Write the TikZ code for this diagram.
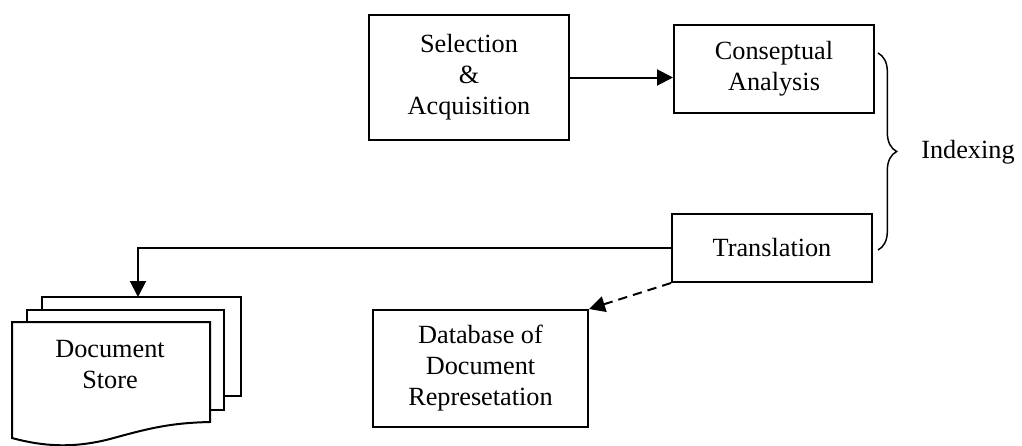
\documentclass[tikz,border=0pt]{standalone}
\usepackage{fontspec}
\setmainfont{Liberation Serif}
\usetikzlibrary{arrows.meta,decorations.pathreplacing}
\begin{document}
\begin{tikzpicture}[x=0.75pt,y=-0.75pt,
  every node/.style={font=\fontsize{19.7}{23.25}\selectfont, align=center},
  box/.style={draw, line width=1.5pt, rectangle, inner sep=0pt},
  conn/.style={line width=1.5pt, -{Triangle[length=12pt,width=12pt]}},
  page/.style={draw, line width=1.5pt, fill=white}]
\useasboundingbox (0,0) rectangle (1022,446);
% boxes
\node[box, minimum width=150pt, minimum height=93.75pt] (sel) at (469,77.5) {Selection\\\&\\Acquisition};
\node[box, minimum width=150pt, minimum height=66pt] (con) at (774,69) {Conseptual\\Analysis};
\node[box, minimum width=150pt, minimum height=51pt] (tra) at (772,248) {Translation};
\node[box, minimum width=161.25pt, minimum height=87.75pt] (db) at (480.5,368.5) {Database of\\Document\\Represetation};
% document store pages
\draw[page] (42,297) rectangle (241,396);
\draw[page] (27,310) rectangle (224,410);
\draw[page] (12,322) -- (210,322) -- (210,422)
  .. controls (170,423) and (150,428) .. (110,439)
  .. controls (75,448) and (45,447) .. (12,438) -- cycle;
\node (ds) at (110,365) {Document\\Store};
\coordinate (dstop) at (138,297);
% connectors
\draw[conn] (sel.east) -- (con.west |- sel.east);
\draw[conn] (tra.west) -| (dstop);
\draw[conn, dash pattern=on 7pt off 4.5pt] (tra.south west) -- (db.north east);
% brace
\draw[line width=1.1pt, decorate, decoration={brace, amplitude=14pt}] (878,53) -- (878,250);
\node (idx) at (968,152) {Indexing};
\end{tikzpicture}
\end{document}
